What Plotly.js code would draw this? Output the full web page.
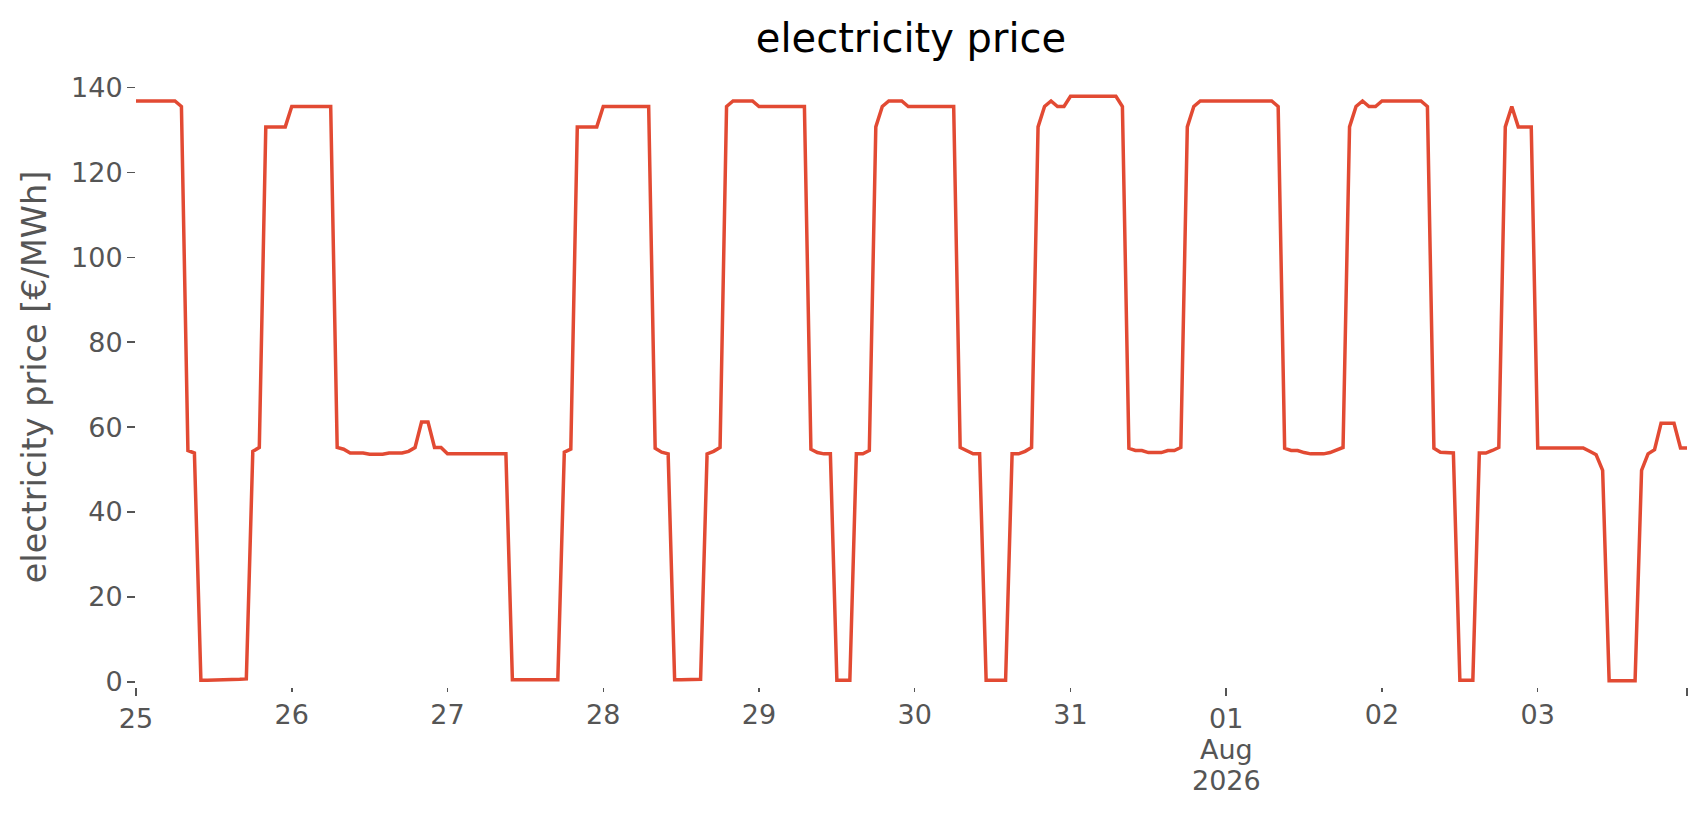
<!DOCTYPE html>
<html>
<head>
<meta charset="utf-8">
<script src="https://cdn.plot.ly/plotly-3.0.1.min.js"></script>
<style>
  html, body { margin: 0; padding: 0; background: #fff; }
  #chart { width: 1706px; height: 815px; }
</style>
</head>
<body>
<div id="chart"></div>
<script>
// hourly electricity price, 25 Jul 2026 00:00 .. 03 Aug 2026 23:00 (one row per day)
const START = Date.UTC(2026, 6, 25, 0);
const price = [
  136.8, 136.8, 136.8, 136.8, 136.8, 136.8, 136.8, 135.5, 54.5, 53.9, 0.4, 0.4, 0.4, 0.4, 0.4, 0.5, 0.6, 0.7, 54.3, 55.2, 130.7, 130.7, 130.7, 130.7,
  135.5, 135.5, 135.5, 135.5, 135.5, 135.5, 135.5, 55.2, 54.8, 53.9, 53.9, 53.9, 53.6, 53.6, 53.6, 53.9, 53.9, 53.9, 54.3, 55.2, 61.2, 61.2, 55.2, 55.2,
  53.7, 53.7, 53.7, 53.7, 53.7, 53.7, 53.7, 53.7, 53.7, 53.7, 0.5, 0.5, 0.5, 0.5, 0.5, 0.5, 0.5, 0.5, 54.1, 54.8, 130.7, 130.7, 130.7, 130.7,
  135.5, 135.5, 135.5, 135.5, 135.5, 135.5, 135.5, 135.5, 55.0, 54.1, 53.7, 0.5, 0.5, 0.5, 0.5, 0.6, 53.7, 54.3, 55.2, 135.5, 136.8, 136.8, 136.8, 136.8,
  135.5, 135.5, 135.5, 135.5, 135.5, 135.5, 135.5, 135.5, 54.8, 54.0, 53.7, 53.7, 0.4, 0.4, 0.4, 53.7, 53.7, 54.5, 130.7, 135.5, 136.8, 136.8, 136.8, 135.5,
  135.5, 135.5, 135.5, 135.5, 135.5, 135.5, 135.5, 55.2, 54.4, 53.7, 53.7, 0.4, 0.4, 0.4, 0.4, 53.7, 53.7, 54.3, 55.2, 130.7, 135.5, 136.8, 135.5, 135.5,
  137.9, 137.9, 137.9, 137.9, 137.9, 137.9, 137.9, 137.9, 135.5, 55.0, 54.5, 54.5, 54.0, 54.0, 54.0, 54.5, 54.5, 55.2, 130.7, 135.5, 136.8, 136.8, 136.8, 136.8,
  136.8, 136.8, 136.8, 136.8, 136.8, 136.8, 136.8, 136.8, 135.5, 55.0, 54.5, 54.5, 54.0, 53.7, 53.7, 53.7, 54.0, 54.5, 55.2, 130.7, 135.5, 136.8, 135.5, 135.5,
  136.8, 136.8, 136.8, 136.8, 136.8, 136.8, 136.8, 135.5, 55.0, 54.1, 53.9, 53.9, 0.4, 0.4, 0.4, 53.9, 53.9, 54.5, 55.2, 130.7, 135.5, 130.7, 130.7, 130.7,
  55.1, 55.1, 55.1, 55.1, 55.1, 55.1, 55.1, 55.1, 54.3, 53.5, 49.8, 0.3, 0.3, 0.3, 0.3, 0.3, 49.8, 53.7, 54.7, 60.9, 60.9, 60.9, 55.1, 55.1,
];

// day ticks: short ones with plain day labels, long ones at start / month / end
const dayTicks    = ['2026-07-26', '2026-07-27', '2026-07-28', '2026-07-29', '2026-07-30', '2026-07-31', '2026-08-02', '2026-08-03'];
const dayLabels   = ['26', '27', '28', '29', '30', '31', '02', '03'];
const majorTicks  = ['2026-07-25', '2026-08-01', '2026-08-03 23:00'];
const majorLabels = ['25', '01', ''];
const monthLines  = ['Aug', '2026'];   // stacked under the "01" label
const yTicks      = [0, 20, 40, 60, 80, 100, 120, 140];

const GREY = '#555555';
const FONT = 'DejaVu Sans, sans-serif';

function _stamp(i) {
  return new Date(START + i * 3600 * 1000).toISOString().slice(0, 16).replace('T', ' ');
}

const times  = price.map((_, i) => _stamp(i));
const xRange = [times[0], times[times.length - 1]];

const baseX = {
  type: 'date',
  range: xRange,
  showgrid: false,
  zeroline: false,
  showline: false,
  ticks: 'outside',
  tickcolor: GREY,
  tickwidth: 1.5,
  tickfont: { family: FONT, size: 27, color: GREY },
  tickmode: 'array',
};

const layout = {
  width: 1706,
  height: 815,
  margin: { l: 136, r: 19, t: 67, b: 128 },
  paper_bgcolor: '#ffffff',
  plot_bgcolor: '#ffffff',
  showlegend: false,
  title: {
    text: 'electricity price',
    font: { family: FONT, size: 40, color: '#000000' },
    x: 0.534, xanchor: 'center',
    y: 1 - 38 / 815, yanchor: 'middle',
  },
  xaxis: Object.assign({}, baseX, {
    tickvals: dayTicks, ticktext: dayLabels, ticklen: 4,
  }),
  xaxis2: Object.assign({}, baseX, {
    overlaying: 'x', side: 'bottom', anchor: 'y',
    tickvals: majorTicks, ticktext: majorLabels, ticklen: 8,
  }),
  yaxis: {
    range: [-1.2, 144.8],
    tickmode: 'array',
    tickvals: yTicks,
    ticktext: yTicks.map(String),
    showgrid: false,
    zeroline: false,
    showline: false,
    ticks: 'outside',
    ticklen: 8,
    tickwidth: 1.5,
    tickcolor: GREY,
    ticklabelstandoff: -1,
    tickfont: { family: FONT, size: 27, color: GREY },
    title: { text: 'electricity price [€/MWh]', font: { family: FONT, size: 33.5, color: GREY }, standoff: 14 },
  },
  annotations: monthLines.map((txt, i) => ({
    x: majorTicks[1], xref: 'x2',
    y: 0, yref: 'paper',
    yanchor: 'middle', yshift: -62 - 31 * i,
    text: txt, showarrow: false,
    font: { family: FONT, size: 27, color: GREY },
  })),
};

const traces = [
  {
    x: times, y: price,
    type: 'scatter', mode: 'lines',
    line: { color: '#E24A33', width: 3.5 },
    hoverinfo: 'x+y',
  },
  // invisible copy on the overlay axis so its long ticks get drawn
  {
    x: times, y: price, xaxis: 'x2',
    type: 'scatter', mode: 'lines',
    line: { color: 'rgba(0,0,0,0)', width: 0 },
    hoverinfo: 'skip',
  },
];

Plotly.newPlot('chart', traces, layout, { staticPlot: true, displayModeBar: false });
</script>
</body>
</html>
